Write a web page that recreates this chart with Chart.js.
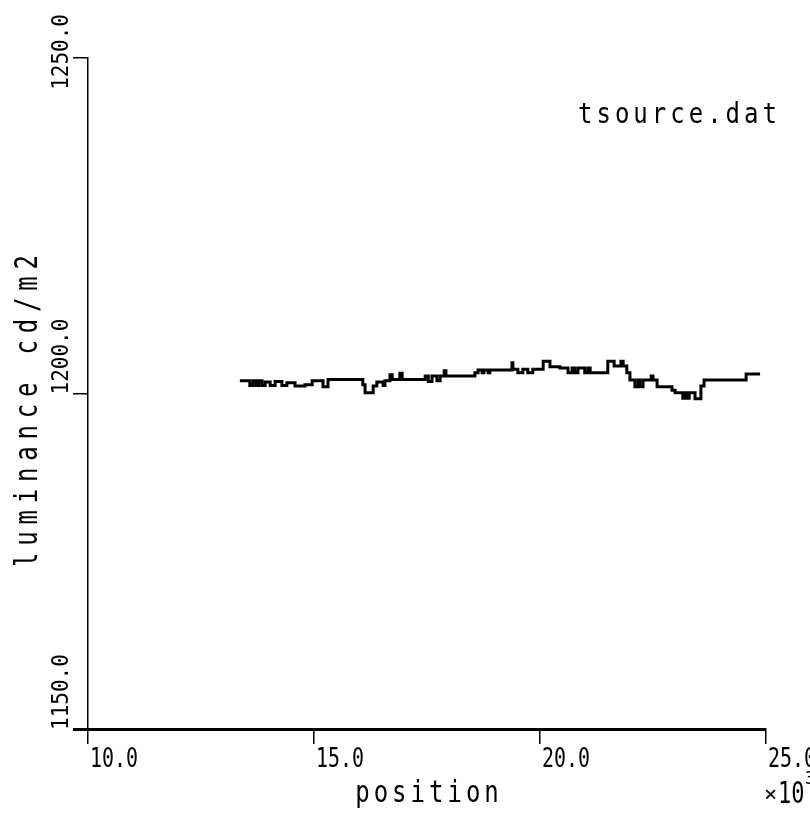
<!DOCTYPE html>
<html>
<head>
<meta charset="utf-8">
<title>tsource.dat</title>
<script src="https://cdn.jsdelivr.net/npm/chart.js@4.4.1/dist/chart.umd.min.js"></script>
<style>
  html, body { margin: 0; padding: 0; background: #ffffff; }
  canvas { display: block; }
</style>
</head>
<body>
<canvas id="lumChart" width="810" height="824"></canvas>
<script>
// step trace (position in units of 10^3, luminance in cd/m2)
const positions = [
  13.36, 13.58, 13.65, 13.72, 13.78, 13.85, 13.92, 14.03, 14.14, 14.29,
  14.40, 14.58, 14.80, 14.96, 15.20, 15.31, 16.08, 16.13, 16.31, 16.39,
  16.53, 16.57, 16.68, 16.73, 16.90, 16.95, 17.46, 17.53, 17.61, 17.72,
  17.79, 17.88, 17.92, 18.56, 18.63, 18.72, 18.76, 18.85, 18.89, 19.38,
  19.40, 19.51, 19.62, 19.73, 19.84, 20.07, 20.22, 20.44, 20.62, 20.71,
  20.77, 20.84, 20.99, 21.06, 21.11, 21.50, 21.64, 21.79, 21.84, 21.92,
  21.99, 22.10, 22.17, 22.21, 22.28, 22.46, 22.50, 22.59, 22.92, 22.99,
  23.16, 23.21, 23.25, 23.30, 23.43, 23.56, 23.63, 24.56, 24.87
];
const luminance = [
  1201.9, 1201.2, 1201.9, 1201.2, 1201.9, 1201.2, 1201.7, 1201.2, 1201.8, 1201.2,
  1201.6, 1201.1, 1201.3, 1201.9, 1201.0, 1202.1, 1201.3, 1200.1, 1201.1, 1201.7,
  1201.2, 1201.9, 1202.8, 1202.1, 1203.0, 1202.1, 1202.6, 1201.8, 1202.6, 1201.9,
  1202.6, 1203.4, 1202.6, 1203.1, 1203.5, 1203.1, 1203.5, 1203.1, 1203.5, 1204.6,
  1203.6, 1203.1, 1203.6, 1203.1, 1203.6, 1204.8, 1204.0, 1203.8, 1203.1, 1203.8,
  1203.1, 1203.8, 1203.1, 1203.8, 1203.1, 1204.8, 1204.1, 1204.8, 1204.1, 1203.1,
  1202.0, 1201.0, 1202.0, 1201.0, 1202.0, 1202.6, 1202.0, 1201.0, 1200.5, 1200.1,
  1199.3, 1200.1, 1199.3, 1200.1, 1199.2, 1201.1, 1202.0, 1202.9, 1202.9
];
const xTicks = [10, 15, 20, 25];
const xTickLabels = ['10.0', '15.0', '20.0', '25.0'];
const yTicks = [1150, 1200, 1250];
const yTickLabels = ['1150.0', '1200.0', '1250.0'];

const MONO = '"DejaVu Sans Mono", "Liberation Mono", monospace';

// plotter lettering is taller than the screen font, so stretch it a bit
function plotText(ctx, text, x, y, o) {
    ctx.save();
    ctx.font = o.size + 'px ' + MONO;
    ctx.letterSpacing = (o.spacing || 0) + 'px';
    ctx.textAlign = o.align || 'left';
    ctx.translate(x, y);
    if (o.rotate) ctx.rotate(-Math.PI / 2);
    ctx.scale(o.sx || 1, o.sy || 1);
    ctx.fillText(text, 0, 0);
    ctx.restore();
}

const plotterText = {
    id: 'plotterText',
    afterDraw(chart) {
        const ctx = chart.ctx;
        const xs = chart.scales.x;
        const ys = chart.scales.y;
        ctx.save();
        ctx.fillStyle = '#000';
        ctx.textBaseline = 'alphabetic';

        // x tick labels, left edge at the tick
        xTicks.forEach(function(v, i) {
            plotText(ctx, xTickLabels[i], xs.getPixelForValue(v) + 2, 767,
                { size: 21, sx: 0.95, sy: 1.25 });
        });

        // y tick labels, rotated, starting at the tick
        ctx.font = '21px ' + MONO;
        yTicks.forEach(function(v, i) {
            const w = ctx.measureText(yTickLabels[i]).width;
            const start = Math.max(ys.getPixelForValue(v) + 1, 14 + w);
            plotText(ctx, yTickLabels[i], 68, start,
                { size: 21, rotate: true, sy: 1.1 });
        });

        // axis titles and file name
        plotText(ctx, 'position', (chart.chartArea.left + chart.chartArea.right) / 2 + 2, 802,
            { size: 24, spacing: 4, align: 'center', sy: 1.25 });
        plotText(ctx, 'tsource.dat', 578, 123,
            { size: 24, spacing: 4, sy: 1.2 });
        plotText(ctx, 'luminance cd/m2', 37, 567,
            { size: 24, spacing: 6.8, rotate: true, sy: 1.3 });

        // x10^3 multiplier
        plotText(ctx, '\u00d7', 764, 801, { size: 22 });
        plotText(ctx, '10', 778, 803, { size: 22, sy: 1.35 });
        plotText(ctx, '3', 805, 784, { size: 15, sy: 1.2 });
        ctx.restore();
    }
};

document.addEventListener('DOMContentLoaded', function() {
    const ctx = document.getElementById('lumChart').getContext('2d');

    const points = positions.map(function(p, i) {
        return { x: p, y: luminance[i] };
    });

    new Chart(ctx, {
        type: 'line',
        data: {
            datasets: [{
                data: points,
                borderColor: '#000000',
                borderWidth: 3,
                pointRadius: 0,
                stepped: 'before',
                fill: false
            }]
        },
        options: {
            responsive: false,
            animation: false,
            layout: { padding: { top: 58, right: 44, left: 0, bottom: 0 } },
            plugins: {
                legend: { display: false },
                tooltip: { enabled: false }
            },
            scales: {
                x: {
                    type: 'linear',
                    min: 10,
                    max: 25,
                    afterBuildTicks: function(scale) {
                        scale.ticks = xTicks.map(function(v) { return { value: v }; });
                    },
                    afterFit: function(scale) { scale.height = 95; },
                    ticks: { display: false },
                    grid: {
                        drawOnChartArea: false,
                        drawTicks: true,
                        tickLength: 15,
                        color: '#000000',
                        lineWidth: 1.5
                    },
                    border: { display: true, color: '#000000', width: 3 }
                },
                y: {
                    type: 'linear',
                    min: 1150,
                    max: 1250,
                    afterBuildTicks: function(scale) {
                        scale.ticks = yTicks.map(function(v) { return { value: v }; });
                    },
                    afterFit: function(scale) { scale.width = 88; },
                    ticks: { display: false },
                    grid: {
                        drawOnChartArea: false,
                        drawTicks: true,
                        tickLength: 15,
                        color: '#000000',
                        // the bottom tick continues the heavy x axis line
                        lineWidth: function(c) { return c.index === 0 ? 3 : 1.5; }
                    },
                    border: { display: true, color: '#000000', width: 1.5 }
                }
            }
        },
        plugins: [plotterText]
    });
});
</script>
</body>
</html>
